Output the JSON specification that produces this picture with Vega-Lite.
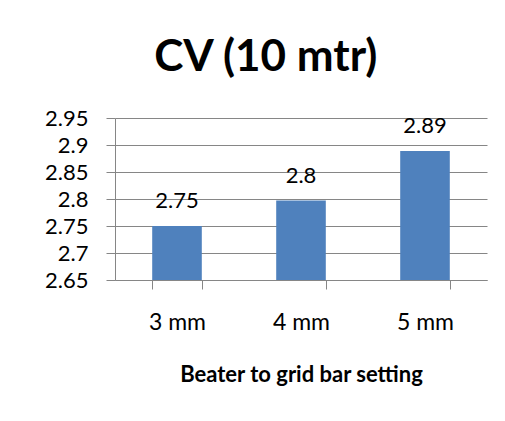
{
  "$schema": "https://vega.github.io/schema/vega-lite/v6.json",
  "autosize": "none",
  "padding": {"left": 115, "top": 118, "right": 18, "bottom": 141},
  "width": 372,
  "height": 162,
  "background": "white",
  "title": {
    "text": "CV (10 mtr)",
    "font": "Lato",
    "fontSize": 44,
    "fontWeight": "bold",
    "color": "black",
    "anchor": "middle",
    "frame": "bounds",
    "offset": 27
  },
  "data": {
    "values": [
      {"setting": "3 mm", "cv": 2.75},
      {"setting": "4 mm", "cv": 2.797},
      {"setting": "5 mm", "cv": 2.889}
    ]
  },
  "encoding": {
    "x": {
      "field": "setting",
      "type": "nominal",
      "sort": null,
      "title": "Beater to grid bar setting",
      "scale": {"paddingInner": 0.6, "paddingOuter": 0.3},
      "axis": {
        "labelAngle": 0,
        "labelFont": "Lato",
        "labelFontSize": 23,
        "labelColor": "black",
        "labelPadding": 22,
        "tickBand": "extent",
        "tickSize": 9,
        "tickColor": "#868686",
        "domainColor": "#868686",
        "titleFont": "Lato",
        "titleFontSize": 22,
        "titleFontWeight": "bold",
        "titleColor": "black",
        "titlePadding": 30
      }
    },
    "y": {
      "field": "cv",
      "type": "quantitative",
      "title": null,
      "scale": {"domain": [2.65, 2.95], "zero": false, "nice": false},
      "axis": {
        "values": [2.65, 2.7, 2.75, 2.8, 2.85, 2.9, 2.95],
        "format": "~g",
        "labelFont": "Lato",
        "labelFontSize": 22,
        "labelColor": "black",
        "labelPadding": 18,
        "tickSize": 9,
        "tickColor": "#868686",
        "domainColor": "#868686",
        "gridColor": "#868686",
        "grid": true
      }
    }
  },
  "layer": [
    {"mark": {"type": "bar", "color": "#4F81BD", "clip": true}},
    {
      "mark": {"type": "text", "font": "Lato", "fontSize": 22, "color": "black", "baseline": "alphabetic", "dy": -18},
      "encoding": {"text": {"field": "cv", "type": "quantitative", "format": ".2~f"}}
    }
  ],
  "config": {"view": {"stroke": null}}
}
